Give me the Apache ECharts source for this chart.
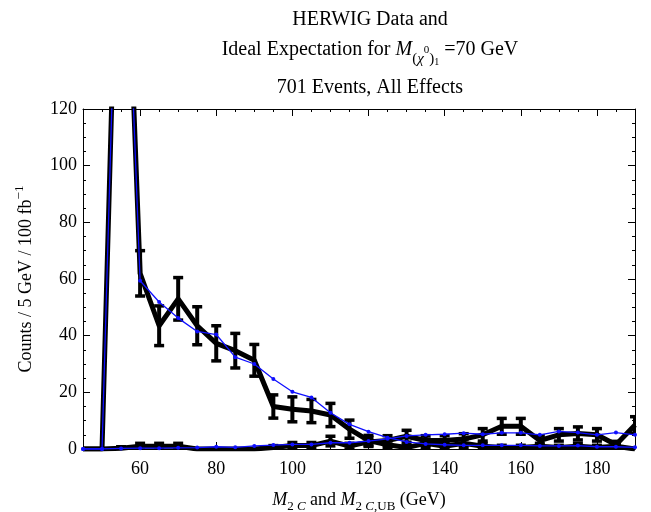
<!DOCTYPE html>
<html><head><meta charset="utf-8">
<script src="https://cdn.jsdelivr.net/npm/echarts@6.0.0/dist/echarts.min.js"></script>
<style>html,body{margin:0;padding:0;background:#fff}#c{width:651px;height:512px}</style>
</head><body><div id="c"></div>
<script>
// ---- data ----
const xBins = [45,50,55,60,65,70,75,80,85,90,95,100,105,110,115,120,125,130,135,140,145,150,155,160,165,170,175,180,185,190];
// HERWIG data, M2C
const dataM2C = [0,0,240,62,43.5,53,43.5,37.3,34.7,31.3,15,14,13.4,12,7,3,1.5,0.5,2,1,2,1,0.5,0.5,1,0.5,1,0.5,1,0];
const errM2C  = [0,0,0,8,7,7.5,6.7,6.2,6.1,5.6,4.1,4.4,4.1,4.1,3.2,1.8,1.3,0.8,1.5,1,1.5,1,0.8,0.8,1,0.8,1,0.8,1,0];
// HERWIG data, M2C,UB
const dataUB  = [0,0,0.3,1,1,1,0,0,0,0,0.5,1.2,1.2,2.8,1,2.5,3,4.5,3,3,3.5,5,8,8,3,5,5.5,5,1.5,8.5];
const errUB   = [0,0,0.5,1,1,1,0,0,0,0,0.7,1.1,1.1,1.7,1,1.6,1.7,2.1,1.7,1.7,1.9,2.2,2.8,2.8,1.7,2.2,2.3,2.2,1.2,2.9];
// Ideal expectation, M2C
const expM2C  = [0,0,235,59.4,51.9,46.2,41.5,40.4,32.4,30,24.7,20.2,18.2,12.8,8.7,6.1,4.0,2.5,1.8,1.5,1.3,1.3,1.3,1.3,1.1,1.1,1.2,0.8,0.8,0.6];
// Ideal expectation, M2C,UB
const expUB   = [0,0,0.2,0.3,0.3,0.4,0.5,0.8,0.6,1.1,1.4,1.6,1.6,2.2,2.2,2.8,3.6,4.6,5.0,5.2,5.6,5.2,5.7,5.7,5.0,6.2,5.8,5.0,5.8,5.0];
// axes
const xMajorTicks = [60,80,100,120,140,160,180];
const xMinorTicks = [45,50,55,60,65,70,75,80,85,90,95,100,105,110,115,120,125,130,135,140,145,150,155,160,165,170,175,180,185,190];
const yTicks = [0,20,40,60,80,100,120];

const FF = '"Liberation Serif","Times New Roman",serif';
const pairs = (v) => xBins.map((x, i) => [x, v[i]]);
const triples = (v, e) => xBins.map((x, i) => [x, v[i], e[i]]);

function errRender(params, api) {
  const x = api.value(0), v = api.value(1), e = api.value(2);
  if (!e) return null;
  const t = api.coord([x, v + e]), b = api.coord([x, v - e]);
  const hw = 5, st = {stroke: '#000', lineWidth: 4};
  return {type: 'group', children: [
    {type: 'line', shape: {x1: t[0], y1: t[1], x2: b[0], y2: b[1]}, style: st},
    {type: 'line', shape: {x1: t[0] - hw, y1: t[1], x2: t[0] + hw, y2: t[1]}, style: {stroke: '#000', lineWidth: 3.5}},
    {type: 'line', shape: {x1: b[0] - hw, y1: b[1], x2: b[0] + hw, y2: b[1]}, style: {stroke: '#000', lineWidth: 3.5}}
  ]};
}

const axisCommonX = {type: 'value', min: 45, max: 190, splitLine: {show: false}};
const blackLine = {color: '#000', width: 1};

const chart = echarts.init(document.getElementById('c'), null, {renderer: 'canvas'});
chart.setOption({
  backgroundColor: '#fff',
  animation: false,
  textStyle: {fontFamily: FF},
  grid: {left: 83, right: 16, top: 109, bottom: 63, containLabel: false, outerBoundsMode: 'none'},
  xAxis: [
    Object.assign({}, axisCommonX, {
      position: 'bottom',
      axisLine: {show: true, onZero: false, lineStyle: blackLine},
      axisTick: {show: true, inside: true, length: 7, customValues: xMajorTicks, lineStyle: blackLine},
      axisLabel: {show: true, customValues: xMajorTicks, color: '#000', fontFamily: FF, fontSize: 18, margin: 11},
      name: '{it|M}{sb|2 }{sbi|C}{n| and }{it|M}{sb|2 }{sbi|C}{sb|,UB}{n| (GeV)}',
      nameLocation: 'middle', nameGap: 38,
      nameTextStyle: {
        color: '#000', fontFamily: FF, fontSize: 18, lineHeight: 26,
        rich: {
          n: {fontFamily: FF, fontSize: 18, color: '#000', lineHeight: 26},
          it: {fontFamily: FF, fontSize: 18, fontStyle: 'italic', color: '#000', lineHeight: 26},
          sb: {fontFamily: FF, fontSize: 13, color: '#000', verticalAlign: 'bottom', lineHeight: 18},
          sbi: {fontFamily: FF, fontSize: 13, fontStyle: 'italic', color: '#000', verticalAlign: 'bottom', lineHeight: 18}
        }
      }
    }),
    Object.assign({}, axisCommonX, {
      position: 'bottom',
      axisLine: {show: false, onZero: false},
      axisTick: {show: true, inside: true, length: 3, customValues: xMinorTicks, lineStyle: blackLine},
      axisLabel: {show: false}
    }),
    Object.assign({}, axisCommonX, {
      position: 'top',
      axisLine: {show: true, onZero: false, lineStyle: blackLine},
      axisTick: {show: true, inside: true, length: 7, customValues: xMajorTicks, lineStyle: blackLine},
      axisLabel: {show: false}
    }),
    Object.assign({}, axisCommonX, {
      position: 'top',
      axisLine: {show: false, onZero: false},
      axisTick: {show: true, inside: true, length: 3, customValues: xMinorTicks, lineStyle: blackLine},
      axisLabel: {show: false}
    })
  ],
  yAxis: [
    {
      type: 'value', min: 0, max: 120, interval: 20, position: 'left',
      splitLine: {show: false},
      axisLine: {show: true, onZero: false, lineStyle: blackLine},
      axisTick: {show: true, inside: true, length: 7, lineStyle: blackLine},
      minorTick: {show: true, splitNumber: 4, length: 3, lineStyle: blackLine},
      axisLabel: {color: '#000', fontFamily: FF, fontSize: 18, margin: 6, customValues: yTicks},
      name: 'Counts / 5 GeV / 100 fb{sp|−1}',
      nameLocation: 'middle', nameGap: 44, nameRotate: 90,
      nameTextStyle: {
        color: '#000', fontFamily: FF, fontSize: 18, lineHeight: 26,
        rich: {
          sp: {fontFamily: FF, fontSize: 13, color: '#000', verticalAlign: 'top', lineHeight: 16}
        }
      }
    },
    {
      type: 'value', min: 0, max: 120, interval: 20, position: 'right',
      splitLine: {show: false},
      axisLine: {show: true, onZero: false, lineStyle: blackLine},
      axisTick: {show: true, inside: true, length: 7, lineStyle: blackLine},
      minorTick: {show: true, splitNumber: 4, length: 3, lineStyle: blackLine},
      axisLabel: {show: false}
    }
  ],
  graphic: [
    {type: 'text', x: 370, y: 20, style: {text: 'HERWIG Data and', font: '20px ' + FF, fill: '#000', align: 'center', verticalAlign: 'middle'}},
    {type: 'text', x: 370, y: 50, style: {
      text: 'Ideal Expectation for {it|M}{s|(}{si|χ}{ss|0}{s|)}{s1|1} {n|=70 GeV}',
      font: '20px ' + FF, fill: '#000', align: 'center', verticalAlign: 'middle', lineHeight: 34,
      rich: {
        n: {fontFamily: FF, fontSize: 20, fill: '#000', lineHeight: 34},
        it: {fontFamily: FF, fontSize: 20, fontStyle: 'italic', fill: '#000', lineHeight: 34},
        s: {fontFamily: FF, fontSize: 15, fill: '#000', verticalAlign: 'bottom', lineHeight: 22},
        si: {fontFamily: FF, fontSize: 15, fontStyle: 'italic', fill: '#000', verticalAlign: 'bottom', lineHeight: 22},
        ss: {fontFamily: FF, fontSize: 11, fill: '#000', verticalAlign: 'middle', lineHeight: 12},
        s1: {fontFamily: FF, fontSize: 10, fill: '#000', verticalAlign: 'bottom', lineHeight: 8}
      }
    }},
    {type: 'text', x: 370, y: 88, style: {text: '701 Events, All Effects', font: '20px ' + FF, fill: '#000', align: 'center', verticalAlign: 'middle'}}
  ],
  series: [
    {type: 'line', name: 'M2C data', data: pairs(dataM2C), showSymbol: false, symbol: 'none', clip: true,
     lineStyle: {color: '#000', width: 5, join: 'round'}, z: 2},
    {type: 'line', name: 'M2C,UB data', data: pairs(dataUB), showSymbol: false, symbol: 'none', clip: true,
     lineStyle: {color: '#000', width: 5, join: 'round'}, z: 2},
    {type: 'custom', name: 'M2C err', data: triples(dataM2C, errM2C), renderItem: errRender, clip: true, encode: {x: 0, y: 1}, z: 3},
    {type: 'custom', name: 'UB err', data: triples(dataUB, errUB), renderItem: errRender, clip: true, encode: {x: 0, y: 1}, z: 3},
    {type: 'line', name: 'M2C ideal', data: pairs(expM2C), symbol: 'circle', symbolSize: 4, clip: true,
     itemStyle: {color: '#1010ff'}, lineStyle: {color: '#1010ff', width: 1.3}, z: 5},
    {type: 'line', name: 'UB ideal', data: pairs(expUB), symbol: 'circle', symbolSize: 4, clip: true,
     itemStyle: {color: '#1010ff'}, lineStyle: {color: '#1010ff', width: 1.3}, z: 5}
  ]
});
</script>
</body></html>
